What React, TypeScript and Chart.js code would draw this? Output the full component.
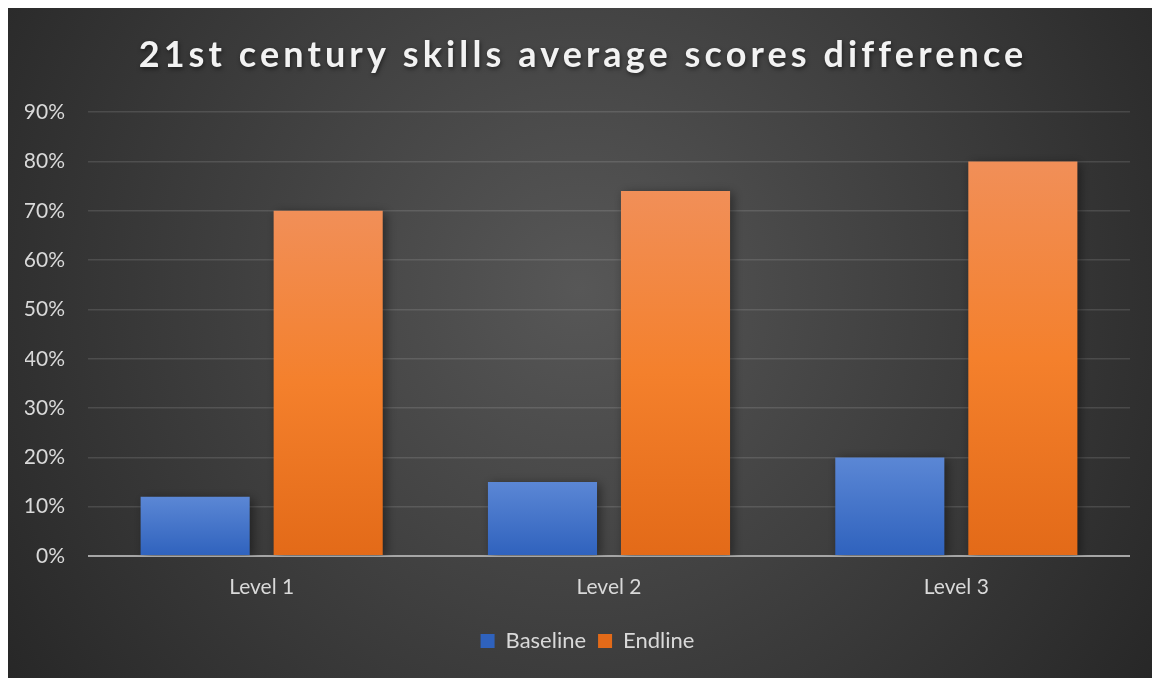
import React, { useEffect, useRef } from 'react';
import { Chart, registerables } from 'chart.js';

Chart.register(...registerables);

const titleText = '21st century skills average scores difference';
const categories = ['Level 1', 'Level 2', 'Level 3'];
const seriesNames = ['Baseline', 'Endline'];
const baselineValues = [0.12, 0.15, 0.2];
const endlineValues = [0.7, 0.74, 0.8];
const yMax = 0.9;
const yStep = 0.1;

const FONT = 'Lato, "Open Sans", sans-serif';
const TEXT = '#d9d9d9';
const W = 1144;
const H = 670;

function gradientFor(stops: [number, string][], solid: string) {
  return (ctx: any) => {
    if (ctx.type !== 'data') return solid;
    const chart = ctx.chart;
    const y = chart.scales && chart.scales.y;
    if (!y || ctx.parsed == null) return solid;
    const top = y.getPixelForValue(ctx.parsed.y);
    const base = y.getPixelForValue(0);
    if (!isFinite(top) || !isFinite(base) || top === base) return solid;
    const g = chart.ctx.createLinearGradient(0, top, 0, base);
    stops.forEach(([o, c]) => g.addColorStop(o, c));
    return g;
  };
}

const bgPlugin = {
  id: 'bgPlugin',
  beforeDraw(chart: any) {
    const { ctx, width, height } = chart;
    ctx.save();
    const g = ctx.createRadialGradient(width * 0.5, height * 0.42, 0, width * 0.5, height * 0.42, width * 0.62);
    g.addColorStop(0, '#575757');
    g.addColorStop(1, '#262626');
    ctx.fillStyle = g;
    ctx.fillRect(0, 0, width, height);
    ctx.restore();
  },
};

const shadowPlugin = {
  id: 'shadowPlugin',
  beforeDatasetsDraw(chart: any) {
    const ctx = chart.ctx;
    ctx.save();
    ctx.shadowColor = 'rgba(0,0,0,0.45)';
    ctx.shadowBlur = 10;
    ctx.shadowOffsetX = 3;
    ctx.shadowOffsetY = 2;
  },
  afterDatasetsDraw(chart: any) {
    chart.ctx.restore();
  },
};

const legendShiftPlugin = {
  id: 'legendShift',
  afterLayout(chart: any) {
    const lg = chart.legend;
    if (lg) {
      lg.left += 10;
      lg.right += 10;
    }
  },
};

const titlePlugin = {
  id: 'spacedTitle',
  afterDraw(chart: any) {
    const ctx = chart.ctx;
    const tb = chart.titleBlock;
    if (!tb) return;
    ctx.save();
    ctx.font = `bold 36px ${FONT}`;
    (ctx as any).letterSpacing = '4.1px';
    ctx.fillStyle = '#f2f2f2';
    ctx.textAlign = 'center';
    ctx.textBaseline = 'middle';
    ctx.shadowColor = 'rgba(0,0,0,0.5)';
    ctx.shadowBlur = 4;
    ctx.shadowOffsetX = 1;
    ctx.shadowOffsetY = 2;
    ctx.fillText(titleText, chart.width / 2 + 3, tb.top + 47);
    ctx.restore();
  },
};

export default function App() {
  const ref = useRef<HTMLCanvasElement>(null);
  useEffect(() => {
    if (!ref.current) return;
    const chart = new Chart(ref.current, {
      type: 'bar',
      data: {
        labels: categories,
        datasets: [
          {
            label: seriesNames[0],
            data: baselineValues,
            backgroundColor: gradientFor([[0, '#5b87d5'], [1, '#2f62bd']], '#4472c4'),
            categoryPercentage: 0.766,
            barPercentage: 0.82,
          },
          {
            label: seriesNames[1],
            data: endlineValues,
            backgroundColor: gradientFor([[0, '#f18f58'], [0.5, '#f4802c'], [1, '#e36a18']], '#f07f2a'),
            categoryPercentage: 0.766,
            barPercentage: 0.82,
          },
        ],
      },
      options: {
        animation: false,
        responsive: false,
        maintainAspectRatio: false,
        layout: { padding: { left: 17, right: 22, top: 0, bottom: 16 } },
        plugins: {
          title: {
            display: true,
            text: titleText,
            color: 'rgba(0,0,0,0)',
            font: { family: FONT, size: 36, weight: 'bold' },
            padding: { top: 22, bottom: 39 },
          },
          legend: {
            position: 'bottom',
            labels: {
              color: TEXT,
              font: { family: FONT, size: 22 },
              boxWidth: 14,
              boxHeight: 14,
              padding: 12,
            },
          },
          tooltip: { enabled: false },
        },
        scales: {
          x: {
            grid: { display: false, drawTicks: false },
            border: { display: false },
            ticks: { color: TEXT, font: { family: FONT, size: 21 }, padding: 19 },
            afterFit: (s: any) => {
              s.height = 62;
            },
          },
          y: {
            min: 0,
            max: yMax,
            grid: {
              drawTicks: false,
              color: (c: any) => (c.tick && c.tick.value === 0 ? '#a6a6a6' : 'rgba(255,255,255,0.12)'),
              lineWidth: (c: any) => (c.tick && c.tick.value === 0 ? 2 : 1.4),
            },
            border: { display: false },
            ticks: {
              stepSize: yStep,
              color: TEXT,
              font: { family: FONT, size: 21 },
              padding: 23,
              callback: (v: any) => `${Math.round(Number(v) * 100)}%`,
            },
            afterFit: (s: any) => {
              s.width = 63;
            },
          },
        },
      },
      plugins: [bgPlugin, shadowPlugin, legendShiftPlugin, titlePlugin],
    });
    return () => chart.destroy();
  }, []);
  return (
    <div style={{ position: 'fixed', left: 8, top: 8, width: W, height: H }}>
      <canvas ref={ref} width={W} height={H} style={{ width: W, height: H, display: 'block' }} />
    </div>
  );
}
